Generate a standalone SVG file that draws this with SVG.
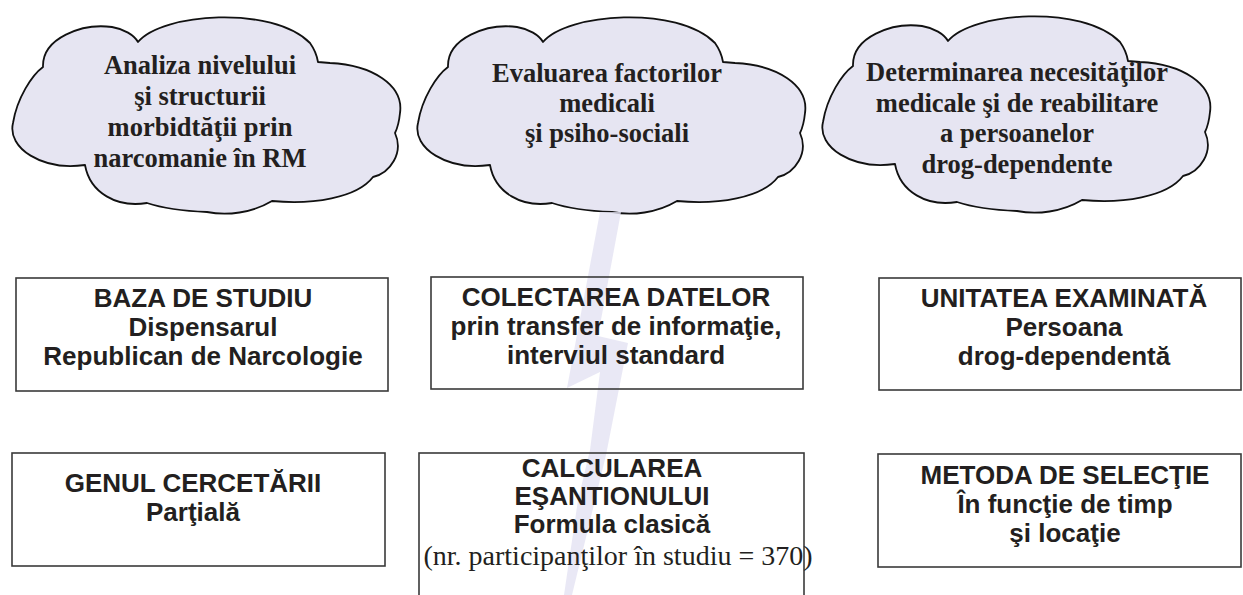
<svg xmlns="http://www.w3.org/2000/svg" xmlns:xlink="http://www.w3.org/1999/xlink" width="1243" height="595" viewBox="0 0 1243 595">
<style>
.cloud{fill:#e6e5f2;stroke:#111;stroke-width:1.8;stroke-linejoin:round}
.ct{font-family:"Liberation Serif","Times New Roman",serif;font-weight:bold;font-size:26.5px;fill:#231f20;text-anchor:middle}
.box{fill:none;stroke:#3a3a3a;stroke-width:1.6}
.bt{font-family:"Liberation Sans",Arial,sans-serif;font-weight:bold;font-size:26px;fill:#231f20;text-anchor:middle}
.st{font-family:"Liberation Serif","Times New Roman",serif;font-size:28px;fill:#231f20;text-anchor:middle}
.bolt{fill:#e3e2f3;fill-opacity:0.8}
</style>
<defs>
<path id="cloudShape" d="M31,54 C30,25 70,10 100,14 C112,16 122,22 126,29 C150,0 260,-8 298,30 C303,37 305,43 306,49 L318,50 C360,52 392,72 388,100 C387,110 385,116 383,120 C392,140 378,160 361,164 C345,185 300,192 260,188 C240,200 215,203 195,199 C170,198 150,195 135,190 C105,195 78,180 73,152 C30,158 -5,135 1,110 C5,85 20,62 31,54 Z"/>
</defs>
<rect width="1243" height="595" fill="#fff"/>
<g id="cloud1">
<use href="#cloudShape" class="cloud" transform="translate(12,13)"/>
<text class="ct" x="200" y="74">Analiza nivelului</text>
<text class="ct" x="200" y="105">şi structurii</text>
<text class="ct" x="200" y="136">morbidtăţii prin</text>
<text class="ct" x="200" y="167">narcomanie în RM</text>
</g>
<g id="cloud2">
<use href="#cloudShape" class="cloud" transform="translate(417,13)"/>
<text class="ct" x="607" y="82">Evaluarea factorilor</text>
<text class="ct" x="607" y="112">medicali</text>
<text class="ct" x="607" y="142">şi psiho-sociali</text>
</g>
<g id="cloud3">
<use href="#cloudShape" class="cloud" transform="translate(822,12)"/>
<text class="ct" x="1017" y="81">Determinarea necesităţilor</text>
<text class="ct" x="1017" y="112">medicale şi de reabilitare</text>
<text class="ct" x="1017" y="142">a persoanelor</text>
<text class="ct" x="1017" y="173">drog-dependente</text>
</g>
<g id="connectors">
<polygon class="bolt" points="600,212 621,212 598,336 628,343 606,455 572,595 564,595 578,500 590,450 600,372 567,388"/>
</g>
<g id="box1">
<rect class="box" x="16" y="278" width="372" height="113"/>
<text class="bt" x="203" y="307">BAZA DE STUDIU</text>
<text class="bt" x="203" y="336">Dispensarul</text>
<text class="bt" x="203" y="365">Republican de Narcologie</text>
</g>
<g id="box2">
<rect class="box" x="431" y="277" width="372" height="112"/>
<text class="bt" x="616" y="306">COLECTAREA DATELOR</text>
<text class="bt" x="616" y="335">prin transfer de informaţie,</text>
<text class="bt" x="616" y="364">interviul standard</text>
</g>
<g id="box3">
<rect class="box" x="879" y="278" width="362" height="112"/>
<text class="bt" x="1064" y="307">UNITATEA EXAMINATĂ</text>
<text class="bt" x="1064" y="336">Persoana</text>
<text class="bt" x="1064" y="365">drog-dependentă</text>
</g>
<g id="box4">
<rect class="box" x="12" y="453" width="373" height="113"/>
<text class="bt" x="193" y="492">GENUL CERCETĂRII</text>
<text class="bt" x="193" y="521">Parţială</text>
</g>
<g id="box5">
<rect class="box" x="419" y="453" width="385" height="170"/>
<text class="bt" x="612" y="477">CALCULAREA</text>
<text class="bt" x="612" y="505">EŞANTIONULUI</text>
<text class="bt" x="612" y="533">Formula clasică</text>
<text class="st" x="618" y="565">(nr. participanţilor în studiu = 370)</text>
</g>
<g id="box6">
<rect class="box" x="878" y="454" width="363" height="113"/>
<text class="bt" x="1065" y="484">METODA DE SELECŢIE</text>
<text class="bt" x="1065" y="513">În funcţie de timp</text>
<text class="bt" x="1065" y="542">şi locaţie</text>
</g>
</svg>
